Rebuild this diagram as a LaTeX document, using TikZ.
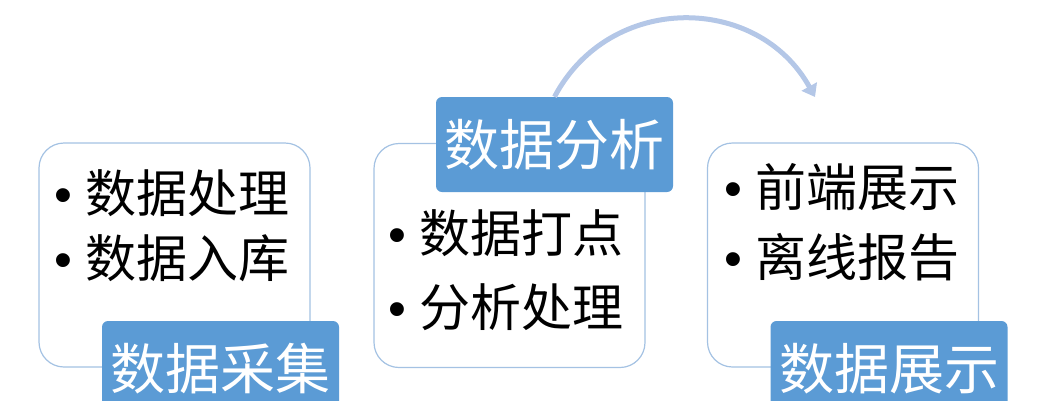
\documentclass[tikz,border=0pt]{standalone}
\usepackage{fontspec}
\usepackage{tikz}
\usetikzlibrary{arrows.meta}
\newfontfamily\cjk{Noto Sans CJK SC}
\newfontfamily\puce{Liberation Sans}
\definecolor{bleu}{HTML}{5B9BD5}
\definecolor{bord}{HTML}{A4C2E3}
\definecolor{fleche}{HTML}{B4C7E7}
\newcommand{\pt}{{\puce\char"2022}\hspace{13pt}}
\tikzset{
  boite/.style={draw=bord, line width=1.2pt, rounded corners=25pt, fill=white,
    minimum width=271pt, minimum height=224pt},
  titre/.style={fill=bleu, rounded corners=6pt, text=white, inner sep=0pt,
    minimum width=237pt, minimum height=95pt,
    font=\cjk\fontsize{55}{60}\selectfont},
  item/.style={anchor=west, inner sep=0pt, font=\cjk\fontsize{51}{56}\selectfont}
}

\begin{document}
\begin{tikzpicture}[x=1pt,y=-1pt]
  \useasboundingbox (0,0) rectangle (1048,400);
  % Gauche.
  \node[boite] (b1) at (174.5,255) {};
  \node[item] (i11) at (54,193) {\pt 数据处理};
  \node[item] (i12) at (54,258) {\pt 数据入库};
  \node[titre] (t1) at (220.5,368.5) {数据采集};
  % Milieu.
  \node[boite] (b2) at (509.5,255.5) {};
  \node[item] (i21) at (388,233) {\pt 数据打点};
  \node[item] (i22) at (388,307) {\pt 分析处理};
  \node[titre] (t2) at (554.5,144.5) {数据分析};
  % Droite.
  \node[boite] (b3) at (843,255) {};
  \node[item] (i31) at (724,187) {\pt 前端展示};
  \node[item] (i32) at (724,257) {\pt 离线报告};
  \node[titre] (t3) at (889,368.5) {数据展示};
  % Fleche.
  \coordinate (fin) at (815,97);
  \draw[fleche, line width=5pt, -{Triangle[length=12pt,width=17pt]}]
    (t2.north) .. controls (610,-8) and (758,-6) .. (fin);
\end{tikzpicture}
\end{document}
